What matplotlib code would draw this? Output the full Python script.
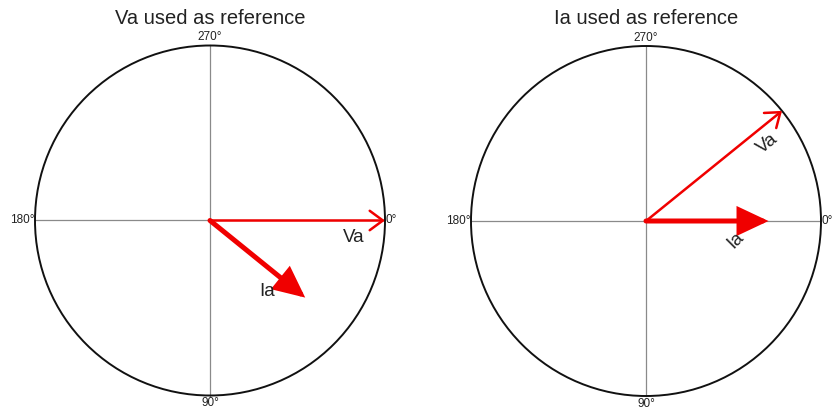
# Diagramas fasoriais: Va e Ia, cada um usado como referência
import numpy as np
import matplotlib.pyplot as plt
from matplotlib.patches import Circle, FancyArrowPatch, ArrowStyle

plt.rcParams["font.family"] = ["Liberation Sans", "DejaVu Sans"]

titles = ["Va used as reference", "Ia used as reference"]
# ângulos em graus, sentido horário (0° à direita, 90° embaixo)
va_angle = [0, -39]
ia_angle = [39, 0]
va_mag = [1.0, 1.0]
ia_mag = [0.70, 0.70]
va_label_rot = [0, 39]
ia_label_rot = [0, 45]
dir_labels = ["0°", "90°", "180°", "270°"]

RED = "#f00000"
TXT = "#222222"
GRID = "#8a8a8a"


def to_xy(mag, ang):
    a = np.deg2rad(ang)
    return mag * np.cos(a), -mag * np.sin(a)


def along(ang, dist, perp):
    """Ponto a 'dist' ao longo do fasor, deslocado 'perp' para o lado horário."""
    a = np.deg2rad(ang)
    ux, uy = np.cos(a), -np.sin(a)
    px, py = -np.sin(a), -np.cos(a)
    return dist * ux + perp * px, dist * uy + perp * py


fig = plt.figure(figsize=(8.38, 4.12), dpi=100)
W, H = 838, 412
R = 175.0  # pixels por unidade
centers = [(210, 220.5), (646, 221)]
spans = [(0, 420), (420, 838)]

for i, (cx, cy) in enumerate(centers):
    x0, x1 = spans[i]
    ax = fig.add_axes([x0 / W, 0, (x1 - x0) / W, 1])
    ax.set_xlim(-(cx - x0) / R, (x1 - cx) / R)
    ax.set_ylim(-(H - cy) / R, cy / R)
    ax.axis("off")

    ax.plot([-1, 1], [0, 0], color=GRID, lw=0.9, zorder=1)
    ax.plot([0, 0], [-1, 1], color=GRID, lw=0.9, zorder=1)
    ax.add_patch(Circle((0, 0), 1.0, fill=False, ec="#111111", lw=1.4, zorder=2))

    ax.text(0, (cy - 23.5) / R, titles[i], ha="center", va="baseline",
            fontsize=14.5, color=TXT)
    ax.text(1.005, 0, dir_labels[0], ha="left", va="center", fontsize=8.5, color=TXT)
    ax.text(0, -1.01, dir_labels[1], ha="center", va="top", fontsize=8.5, color=TXT)
    ax.text(-1.005, 0, dir_labels[2], ha="right", va="center", fontsize=8.5, color=TXT)
    ax.text(0, 1.012, dir_labels[3], ha="center", va="bottom", fontsize=8.5, color=TXT)

    # Va: linha fina com ponta aberta
    ax.add_patch(FancyArrowPatch(
        (0, 0), to_xy(va_mag[i], va_angle[i]),
        arrowstyle=ArrowStyle("->", head_length=9.5, head_width=7),
        mutation_scale=1, shrinkA=0, shrinkB=0, color=RED, lw=1.8, zorder=4))
    # Ia: linha grossa com ponta cheia
    ax.add_patch(FancyArrowPatch(
        (0, 0), to_xy(ia_mag[i], ia_angle[i]),
        arrowstyle=ArrowStyle("-|>", head_length=17, head_width=8),
        mutation_scale=1, shrinkA=0, shrinkB=0, color=RED, lw=3.6,
        joinstyle="miter", zorder=4))

    vx, vy = along(va_angle[i], 0.82 * va_mag[i], 0.095)
    ax.text(vx, vy, "Va", ha="center", va="center", fontsize=13.5,
            rotation=va_label_rot[i], color=TXT, zorder=5)
    ix, iy = along(ia_angle[i], 0.73 * ia_mag[i], 0.11)
    ax.text(ix, iy, "Ia", ha="center", va="center", fontsize=13.5,
            rotation=ia_label_rot[i], color=TXT, zorder=5)

fig.savefig("out.png", dpi=100, facecolor="white")
